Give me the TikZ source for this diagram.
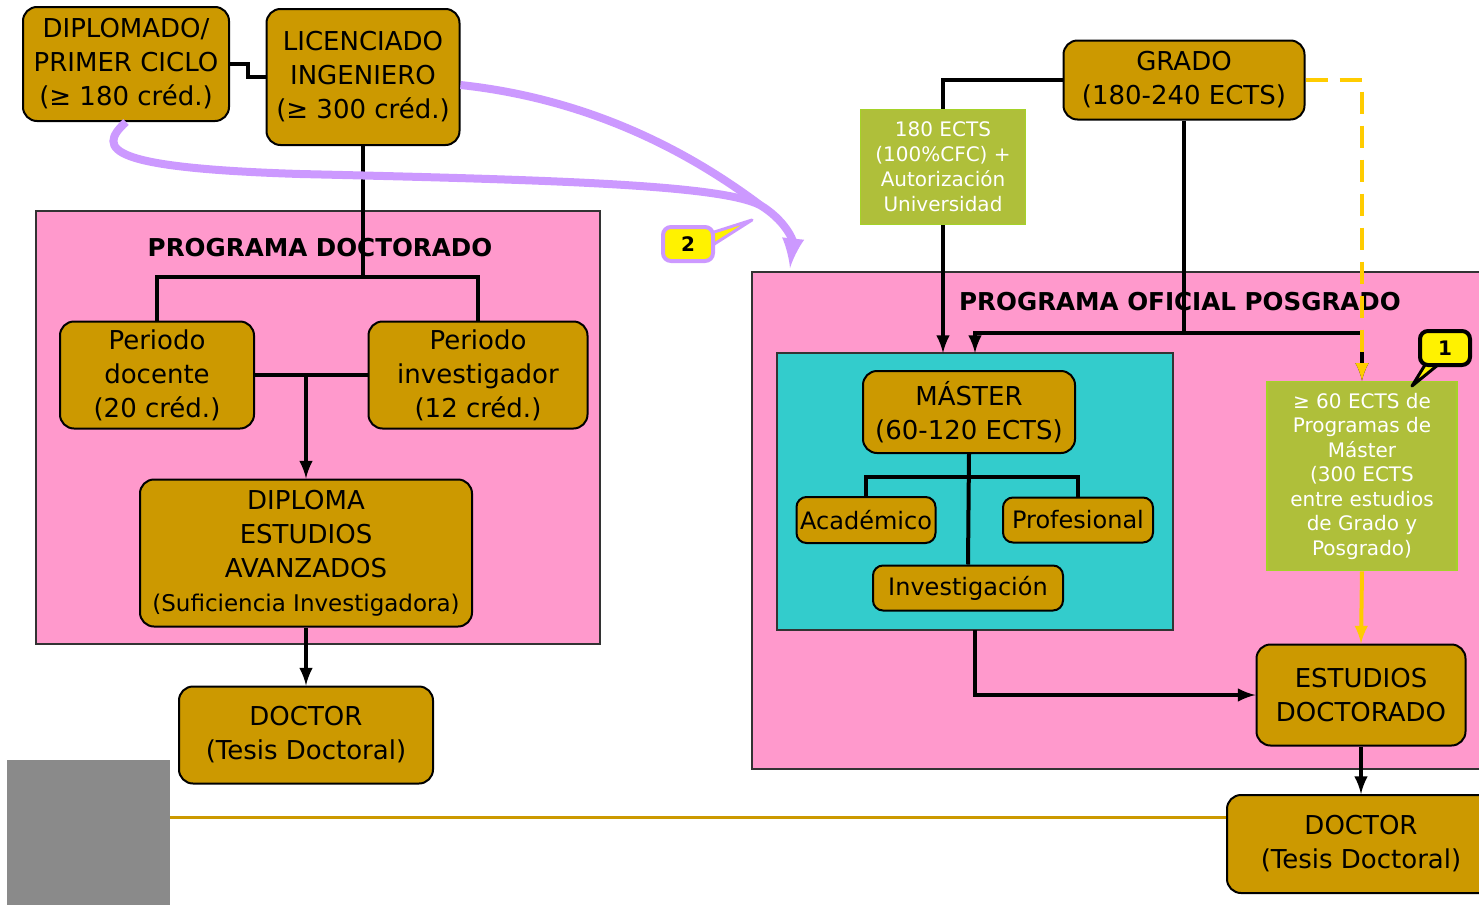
\documentclass[tikz,border=0pt]{standalone}
\usepackage{fontspec}
\setmainfont{DejaVu Sans}
\usepackage{tikz}
\usetikzlibrary{calc,arrows}
\definecolor{oro}{RGB}{204,153,0}
\definecolor{rosa}{RGB}{255,153,204}
\definecolor{turquesa}{RGB}{51,204,204}
\definecolor{oliva}{RGB}{175,191,58}
\definecolor{lima}{RGB}{165,210,40}
\definecolor{lila}{RGB}{204,153,255}
\definecolor{amarillo}{RGB}{255,204,0}
\definecolor{gris}{RGB}{138,138,138}
\tikzset{
  caja/.style={draw=black,line width=1pt,fill=oro,rounded corners=7pt,align=center,inner sep=0pt,font=\fontsize{13}{17}\selectfont},
  cajita/.style={caja,rounded corners=5pt,font=\fontsize{12}{14}\selectfont},
  verde/.style={draw=lima,line width=0.8pt,fill=oliva,text=white,align=center,inner sep=0pt},
  marco/.style={draw=black!80,line width=0.6pt},
  titulo/.style={font=\bfseries\fontsize{12.3}{15}\selectfont},
  linea/.style={line width=2pt},
  flecha/.style={linea,-latex},
  nota/.style={fill=yellow,rounded corners=4pt,minimum width=25pt,minimum height=17pt,inner sep=0pt,font=\bfseries\fontsize{10}{12}\selectfont},
}
\begin{document}
\begin{tikzpicture}[x=0.5pt,y=-0.5pt]
  \useasboundingbox (0,0) rectangle (1479,905);
  \clip (0,0) rectangle (1479,905);
  % fondos
  \draw[marco,fill=rosa] (36,211) rectangle (600,644);
  \draw[marco,fill=rosa] (752,272) rectangle (1500,769);
  \draw[marco,fill=turquesa] (777,353) rectangle (1173,630);
  \fill[gris] (7,760) rectangle (170,905);
  \node[titulo](tdoc)at(320,248){PROGRAMA DOCTORADO};
  \node[titulo](tpos)at(1180,302){PROGRAMA OFICIAL POSGRADO};
  % plan antiguo
  \node[caja,minimum width=103pt,minimum height=57pt](dip)at(126,64){DIPLOMADO/\\PRIMER CICLO\\(≥ 180 créd.)};
  \node[caja,minimum width=96.5pt,minimum height=68pt](lic)at(363,77){LICENCIADO\\INGENIERO\\(≥ 300 créd.)};
  \node[caja,minimum width=97pt,minimum height=53.5pt](doc)at(157,375){Periodo\\docente\\(20 créd.)};
  \node[caja,minimum width=109.5pt,minimum height=53.5pt](inv)at(478,375){Periodo\\investigador\\(12 créd.)};
  \node[caja,minimum width=166pt,minimum height=73.5pt](dea)at(306,553){DIPLOMA\\ESTUDIOS\\AVANZADOS\\{\fontsize{11.5}{15}\selectfont(Suficiencia Investigadora)}};
  \node[caja,minimum width=127pt,minimum height=48.5pt](docL)at(306,735){DOCTOR\\(Tesis Doctoral)};
  \coordinate(split)at(363,277);
  \draw[linea](dip.east)--++(18,0)|-(lic.west);
  \draw[linea](lic.south)--(split);
  \draw[linea](doc.north)--++(0,-44)-|(inv.north);
  \draw[linea](doc.east)--(inv.west);
  \draw[flecha](doc.east -| dea.north)--(dea.north);
  \draw[flecha](dea.south)--(docL.north);
  % plan nuevo
  \node[caja,minimum width=120.5pt,minimum height=39.5pt](grado)at(1184,80){GRADO\\(180-240 ECTS)};
  \node[verde,minimum width=82.5pt,minimum height=57.5pt,font=\fontsize{10}{12.5}\selectfont](g180)at(943,167){180 ECTS\\(100\%CFC) +\\Autorización\\Universidad};
  \node[caja,minimum width=106pt,minimum height=41pt](master)at(969,412){MÁSTER\\(60-120 ECTS)};
  \node[cajita,minimum width=69.5pt,minimum height=23pt](acad)at(866,520){Académico};
  \node[cajita,minimum width=75pt,minimum height=22.5pt](prof)at(1078,520){Profesional};
  \node[cajita,minimum width=95pt,minimum height=22.5pt](inves)at(968,588){Investigación};
  \node[verde,minimum width=95pt,minimum height=94.5pt,font=\fontsize{10}{12.25}\selectfont](g60)at(1362,476){≥ 60 ECTS de\\Programas de\\Máster\\(300 ECTS\\entre estudios\\de Grado y\\Posgrado)};
  \node[caja,minimum width=104.5pt,minimum height=50.5pt](estd)at(1361,695){ESTUDIOS\\DOCTORADO};
  \node[caja,minimum width=134pt,minimum height=49pt](docR)at(1361,844){DOCTOR\\(Tesis Doctoral)};
  \coordinate(gsplit)at(1184,333);
  \coordinate(mtop)at(975,353);
  \coordinate(mbot)at(975,630);
  \coordinate(lstart)at(170,817);
  \draw[linea](grado.west)-|(g180.north);
  \draw[flecha](g180.south)--(g180.south |- mtop);
  \draw[flecha](grado.south)--(gsplit)-|(mtop);
  \draw[flecha](gsplit)-|(g60.north);
  \draw[amarillo,line width=2pt,dash pattern=on 11pt off 6pt,-latex](grado.east)-|(g60.north);
  \draw[amarillo,line width=2pt,-latex](g60.south)--(estd.north);
  \draw[linea](master.south)--(inves.north);
  \draw[linea](acad.north)--++(0,-19)-|(prof.north);
  \draw[flecha](mbot)|-(estd.west);
  \draw[flecha](estd.south)--(docR.north);
  \draw[oro,line width=1.5pt](lstart)--(lstart -| docR.west);
  % pasarelas
  \coordinate(merge)at(760,205);
  \draw[lila,line width=4pt,-latex](dip.south)..controls(95,150)and(110,168)..(300,174)
    ..controls(560,180)and(720,185)..(merge)..controls(785,220)and(793,240)..(790,268);
  \draw[lila,line width=4pt]([yshift=-4pt]lic.east)..controls(600,100)and(700,160)..(merge);
  % notas
  \filldraw[fill=yellow,draw=black,line width=1.5pt,line join=round](1428,360)--(1412,386)--(1444,360);
  \node[nota,draw=black,line width=2pt](n1)at(1445,348){1};
  \filldraw[fill=yellow,draw=lila,line width=1.5pt,line join=round](708,234)--(752,220)--(708,248);
  \node[nota,draw=lila,line width=2pt](n2)at(688,244){2};
\end{tikzpicture}
\end{document}
